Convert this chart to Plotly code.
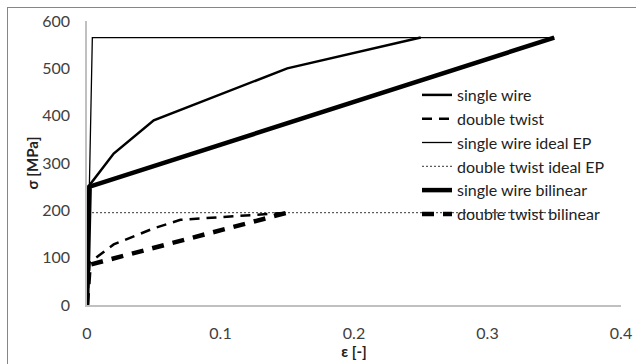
import plotly.graph_objects as go

# Data
sw_x = [0, 0.001, 0.02, 0.05, 0.15, 0.25]
sw_y = [0, 250, 320, 390, 500, 565]

dt_x = [0, 0.002, 0.02, 0.05, 0.07, 0.15]
dt_y = [0, 90, 128, 162, 180, 195]

swep_x = [0, 0.004, 0.35]
swep_y = [0, 565, 565]

dtep_x = [0, 0.001, 0.35]
dtep_y = [0, 195, 195]

swbl_x = [0, 0.002, 0.35]
swbl_y = [0, 250, 565]

dtbl_x = [0, 0.002, 0.15]
dtbl_y = [0, 85, 195]

names = ["single wire", "double twist", "single wire ideal EP",
         "double twist ideal EP", "single wire bilinear", "double twist bilinear"]

fig = go.Figure()
series = [
    (sw_x, sw_y, dict(color="black", width=2.5, dash="solid")),
    (dt_x, dt_y, dict(color="black", width=2.5, dash="10px,7px")),
    (swep_x, swep_y, dict(color="black", width=1.3, dash="solid")),
    (dtep_x, dtep_y, dict(color="black", width=0.8, dash="2px,2px")),
    (swbl_x, swbl_y, dict(color="black", width=4.5, dash="solid")),
    (dtbl_x, dtbl_y, dict(color="black", width=4.5, dash="12px,9px")),
]
for (x, y, ln), nm in zip(series, names):
    fig.add_trace(go.Scatter(x=x, y=y, mode="lines", name=nm, line=ln))

L, R, T, B = 87, 15, 21, 59
pw = 636 - L - R
ph = 364 - T - B

def px_x(p):
    return (p - L) / pw

def px_y(p):
    return (364 - B - p) / ph

fig.update_layout(
    width=636, height=364,
    margin=dict(l=L, r=R, t=T, b=B, autoexpand=False),
    paper_bgcolor="white", plot_bgcolor="white",
    font=dict(family="Lato", size=16, color="#404040"),
    showlegend=True,
    legend=dict(x=px_x(417), y=px_y(78), xanchor="left", yanchor="top",
                bgcolor="rgba(0,0,0,0)", font=dict(size=16, color="#222"),
                tracegroupgap=0),
    xaxis=dict(range=[0, 0.4], dtick=0.1, showgrid=False, zeroline=False,
               showline=True, linecolor="#c0c0c0", linewidth=1.5, automargin=False,
               ticks="", ticklabelstandoff=13, tickfont=dict(color="#404040", size=16),
               title=dict(text="<b>ε [-]</b>", standoff=2, font=dict(size=15, color="#222"))),
    yaxis=dict(range=[0, 600], dtick=100, showgrid=False, zeroline=False,
               showline=True, linecolor="#c0c0c0", linewidth=1.5, automargin=False,
               ticks="", ticklabelstandoff=12, tickfont=dict(color="#404040", size=16),
               title=dict(text="<b>σ [MPa]</b>", standoff=0, font=dict(size=15, color="#222"))),
)

frame_js = (
    "document.body.style.margin='0';document.body.style.padding='0';"
    "document.body.style.overflow='hidden';"
    "var f=document.createElement('div');"
    "f.style.cssText='position:absolute;left:7px;top:7px;width:700px;height:420px;"
    "border-left:1px solid #868686;border-top:1px solid #868686;pointer-events:none;';"
    "document.body.appendChild(f);"
)

fig.write_html(
    "out.html",
    config={"displayModeBar": False},
    post_script=frame_js,
)
